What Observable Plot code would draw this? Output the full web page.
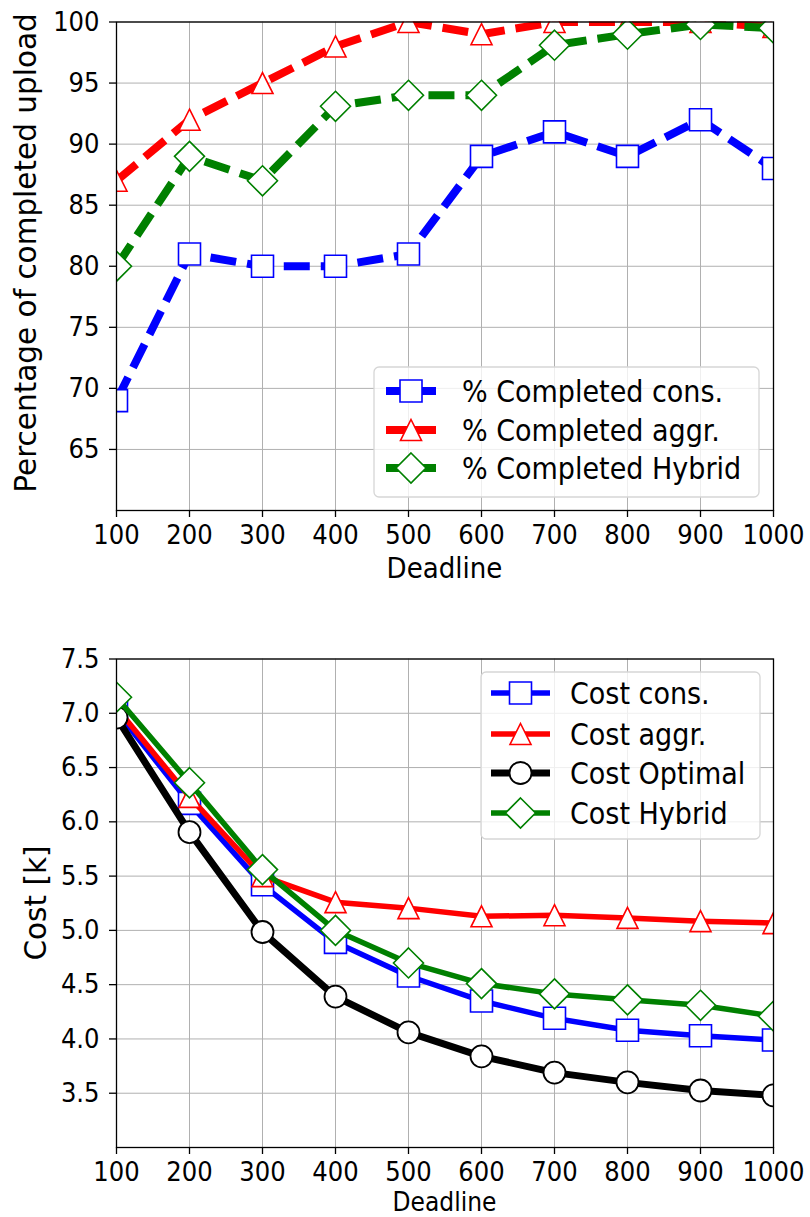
<!DOCTYPE html>
<html><head><meta charset="utf-8">
<script src="https://cdn.jsdelivr.net/npm/d3@7"></script>
<script src="https://cdn.jsdelivr.net/npm/@observablehq/plot@0.6"></script>
<style>
body{margin:0;background:#fff;}
#wrap{position:relative;width:810px;height:1217px;overflow:hidden;}
#wrap svg{display:block;}
</style></head><body><div id="wrap"></div>
<script>
// ---------- data ----------
const deadlines = [100, 200, 300, 400, 500, 600, 700, 800, 900, 1000];
const pctCons   = [69, 81, 80, 80, 81, 89, 91, 89, 92, 88];
const pctAggr   = [87, 92, 95, 98, 100, 99, 100, 100, 100, 99.6];
const pctHybrid = [80, 89, 87, 93.1, 94, 94, 98.1, 99, 99.8, 99.5];
const costCons    = [7.02, 6.17, 5.42, 4.89, 4.58, 4.35, 4.19, 4.08, 4.03, 3.99];
const costAggr    = [7.05, 6.23, 5.50, 5.26, 5.205, 5.13, 5.14, 5.115, 5.085, 5.067];
const costOptimal = [6.96, 5.905, 4.985, 4.39, 4.06, 3.84, 3.69, 3.60, 3.525, 3.48];
const costHybrid  = [7.148, 6.36, 5.56, 5.00, 4.70, 4.51, 4.415, 4.36, 4.31, 4.21];
const xTicks = [100, 200, 300, 400, 500, 600, 700, 800, 900, 1000];
const pctTicks = [65, 70, 75, 80, 85, 90, 95, 100];
const costTicks = [3.5, 4.0, 4.5, 5.0, 5.5, 6.0, 6.5, 7.0, 7.5];
const pctLabels = ["% Completed cons.", "% Completed aggr.", "% Completed Hybrid"];
const costLabels = ["Cost cons.", "Cost aggr.", "Cost Optimal", "Cost Hybrid"];

// ---------- styling ----------
const FONT = "'DejaVu Sans Condensed', 'DejaVu Sans', sans-serif";
const FONT_ROT = "'DejaVu Sans', sans-serif";
const BLUE = "#0000ff", RED = "#ff0000", GREEN = "#008000", BLACK = "#000000";

const rOf = size => Math.sqrt(size / Math.PI);
const sym = {
  square:   {draw(c, s) { const r = rOf(s); c.moveTo(-r, -r); c.lineTo(r, -r); c.lineTo(r, r); c.lineTo(-r, r); c.closePath(); }},
  triangle: {draw(c, s) { const r = rOf(s); c.moveTo(0, -r); c.lineTo(r, r); c.lineTo(-r, r); c.closePath(); }},
  diamond:  {draw(c, s) { const r = rOf(s); c.moveTo(0, -r); c.lineTo(r, 0); c.lineTo(0, r); c.lineTo(-r, 0); c.closePath(); }},
  circle:   {draw(c, s) { const r = rOf(s); c.moveTo(r, 0); c.arc(0, 0, r, 0, 2 * Math.PI); c.closePath(); }}
};

const rows = (ys) => deadlines.map((d, i) => ({x: d, y: ys[i]}));

function seriesMarks(ys, color, symbol, r, lw, dash, mw) {
  const data = rows(ys);
  return [
    Plot.line(data, {x: "x", y: "y", stroke: color, strokeWidth: lw, strokeDasharray: dash,
      strokeLinecap: dash ? "butt" : "round", strokeLinejoin: "round", clip: true}),
    Plot.dot(data, {x: "x", y: "y", symbol: sym[symbol], r, fill: "white", stroke: color,
      strokeWidth: mw, clip: true})
  ];
}

function axes(yTicks, yFmt) {
  return [
    Plot.gridX(xTicks, {stroke: "#b0b0b0", strokeOpacity: 1, strokeWidth: 1}),
    Plot.gridY(yTicks, {stroke: "#b0b0b0", strokeOpacity: 1, strokeWidth: 1}),
    Plot.axisX(xTicks, {tickSize: 7, tickPadding: 7, strokeWidth: 1.3, label: null, tickFormat: d3.format("d"), fontSize: 27, fontFamily: FONT, fill: "black"}),
    Plot.axisY(yTicks, {tickSize: 7, tickPadding: 10, strokeWidth: 1.3, label: null, tickFormat: yFmt, fontSize: 27, fontFamily: FONT, fill: "black"})
  ];
}

const wrap = document.getElementById("wrap");

// ---------- top chart ----------
const topChart = Plot.plot({
  width: 810, height: 617,
  marginLeft: 116, marginRight: 37, marginTop: 21.5, marginBottom: 107,
  style: {fontFamily: FONT, fontSize: "27px", background: "white", overflow: "visible"},
  x: {domain: [100, 1000]},
  y: {domain: [60, 100]},
  marks: [
    ...axes(pctTicks, d3.format("d")),
    ...seriesMarks(pctCons, BLUE, "square", 11, 8, "26,11", 1.6),
    ...seriesMarks(pctAggr, RED, "triangle", 10.5, 8, "26,11", 1.6),
    ...seriesMarks(pctHybrid, GREEN, "diamond", 15, 8, "26,11", 1.6),
    Plot.frame({stroke: "black", strokeWidth: 1.3})
  ]
});
wrap.appendChild(topChart);

// ---------- bottom chart ----------
const bottomChart = Plot.plot({
  width: 810, height: 600,
  marginLeft: 116, marginRight: 37, marginTop: 41.5, marginBottom: 70,
  style: {fontFamily: FONT, fontSize: "27px", background: "white", overflow: "visible"},
  x: {domain: [100, 1000]},
  y: {domain: [3.0, 7.5]},
  marks: [
    ...axes(costTicks, d3.format(".1f")),
    ...seriesMarks(costCons, BLUE, "square", 11, 5.5, null, 1.6),
    ...seriesMarks(costAggr, RED, "triangle", 10.5, 5.5, null, 1.6),
    ...seriesMarks(costOptimal, BLACK, "circle", 11, 7, null, 1.8),
    ...seriesMarks(costHybrid, GREEN, "diamond", 15, 5.5, null, 1.6),
    Plot.frame({stroke: "black", strokeWidth: 1.3})
  ]
});
wrap.appendChild(bottomChart);

// ---------- axis titles ----------
function addTitles(svg, xTitleY, xTitleSize, yTitleX, yTitleY, yTitle) {
  const s = d3.select(svg);
  s.append("text").attr("x", 444.5).attr("y", xTitleY).attr("text-anchor", "middle")
    .style("font-family", FONT).style("font-size", xTitleSize + "px").attr("fill", "black").text("Deadline");
  s.append("text").attr("transform", `translate(${yTitleX},${yTitleY}) rotate(-90)`)
    .attr("text-anchor", "middle").style("font-family", FONT_ROT).style("font-size", "29.5px")
    .attr("fill", "black").text(yTitle);
}
addTitles(topChart, 578, 29, 36, 253, "Percentage of completed upload");
addTitles(bottomChart, 593.5, 26, 46, 286, "Cost [k]");

// ---------- legends ----------
function legend(svg, box, rowsY, items, lineX0, lineX1, textX) {
  const s = d3.select(svg);
  const g = s.append("g");
  g.append("rect").attr("x", box[0]).attr("y", box[1]).attr("width", box[2]).attr("height", box[3])
    .attr("rx", 5).attr("fill", "white").attr("fill-opacity", 0.8).attr("stroke", "#d6d6d6").attr("stroke-width", 1.3);
  items.forEach((it, i) => {
    const y = rowsY[i];
    g.append("line").attr("x1", lineX0).attr("x2", lineX1).attr("y1", y).attr("y2", y)
      .attr("stroke", it.color).attr("stroke-width", it.lw).attr("stroke-linecap", "butt");
    const p = d3.path();
    it.symbol.draw(p, Math.PI * it.r * it.r);
    g.append("path").attr("d", p.toString()).attr("transform", `translate(${(lineX0 + lineX1) / 2},${y})`)
      .attr("fill", "white").attr("stroke", it.color).attr("stroke-width", it.mw);
    g.append("text").attr("x", textX).attr("y", y).attr("dy", "0.36em").attr("text-anchor", "start")
      .style("font-family", FONT).style("font-size", "30px").attr("fill", "black").text(it.label);
  });
}
legend(topChart, [374, 367, 385, 130], [391, 430, 468], [
  {label: pctLabels[0], color: BLUE, symbol: sym.square, r: 11, lw: 8, mw: 1.6},
  {label: pctLabels[1], color: RED, symbol: sym.triangle, r: 10.5, lw: 8, mw: 1.6},
  {label: pctLabels[2], color: GREEN, symbol: sym.diamond, r: 15, lw: 8, mw: 1.6}
], 386, 436, 462);
legend(bottomChart, [481, 55, 279, 167], [76, 117, 156, 196], [
  {label: costLabels[0], color: BLUE, symbol: sym.square, r: 11, lw: 5.5, mw: 1.6},
  {label: costLabels[1], color: RED, symbol: sym.triangle, r: 10.5, lw: 5.5, mw: 1.6},
  {label: costLabels[2], color: BLACK, symbol: sym.circle, r: 11, lw: 7, mw: 1.8},
  {label: costLabels[3], color: GREEN, symbol: sym.diamond, r: 15, lw: 5.5, mw: 1.6}
], 491, 550, 570);
</script>
</body></html>
